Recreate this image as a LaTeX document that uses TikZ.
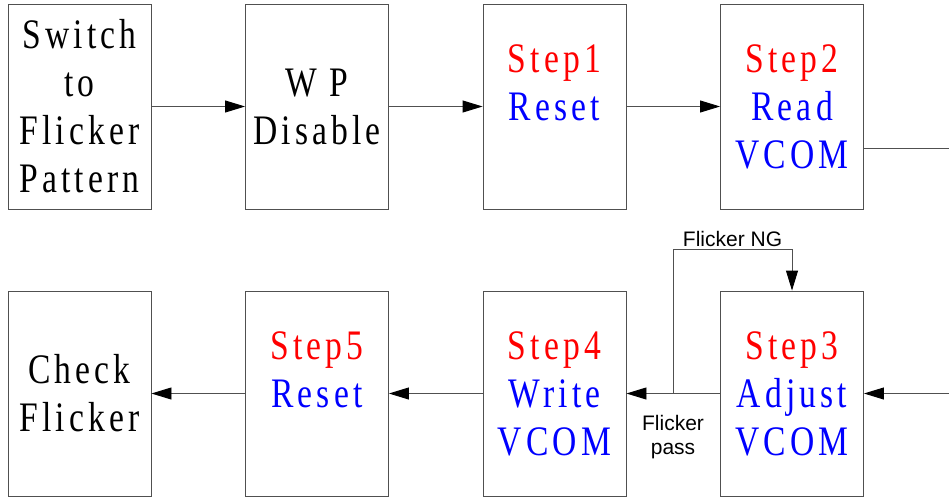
\documentclass[tikz,border=0pt]{standalone}
\usepackage{fontspec}
\setmainfont{Liberation Serif}[FakeStretch=0.8, LetterSpace=10]
\newfontfamily\labelfont{Liberation Sans}
\usepackage{tikz}
\usetikzlibrary{positioning, arrows.meta}
\definecolor{stepred}{RGB}{255,0,0}
\definecolor{stepblue}{RGB}{0,0,255}
\definecolor{boxgray}{RGB}{80,80,80}
\newcommand{\stp}[1]{\textcolor{stepred}{Step#1}}
\newcommand{\act}[1]{\textcolor{stepblue}{#1}}
\newcommand{\widthbox}{143pt}
\newcommand{\heightbox}{205pt}
\tikzset{
    stepbox/.style={draw=boxgray, line width=0.9pt, rectangle, inner sep=0pt,
        minimum width=\widthbox, minimum height=\heightbox, align=center,
        font=\fontsize{42}{48}\selectfont},
    link/.style={draw=boxgray, line width=0.9pt},
    flow/.style={link, -{Triangle[length=20pt, width=12pt, black]}},
    cond/.style={font=\labelfont\fontsize{21}{24}\selectfont, align=center, inner sep=2pt}
}
\begin{document}
\begin{tikzpicture}[x=1pt, y=-1pt, node distance=93.6pt and 93.6pt]
    \useasboundingbox (0,0) rectangle (949,500);

    % upper row
    \node[stepbox] (switch) at (79.5,106.5) {Switch\\to\\Flicker\\Pattern};
    \node[stepbox, right=of switch] (wp) {W P\\Disable};
    \node[stepbox, right=of wp] (s1) {\stp{1}\\\act{Reset}\\\phantom{VCOM}};
    \node[stepbox, right=of s1] (s2) {\stp{2}\\\act{Read}\\\act{VCOM}};

    % lower row
    \node[stepbox] (check) at (79.5,393.5) {Check\\Flicker};
    \node[stepbox, right=of check] (s5) {\stp{5}\\\act{Reset}\\\phantom{VCOM}};
    \node[stepbox, right=of s5] (s4) {\stp{4}\\\act{Write}\\\act{VCOM}};
    \node[stepbox, right=of s4] (s3) {\stp{3}\\\act{Adjust}\\\act{VCOM}};

    \coordinate (s2out) at ([yshift=-41.5pt]s2.east -| 949,0);
    \coordinate (s3in) at (s3.east -| 949,0);
    \coordinate (branch) at ([xshift=-47pt]s3.west);
    \coordinate (ngtop) at ([yshift=41pt]s3.north);

    \draw[flow] (switch) -- (wp);
    \draw[flow] (wp) -- (s1);
    \draw[flow] (s1) -- (s2);
    \draw[link] ([yshift=-41.5pt]s2.east) -- (s2out);

    \draw[flow] (s3in) -- (s3);
    \draw[flow] (s3) -- (s4);
    \draw[flow] (s4) -- (s5);
    \draw[flow] (s5) -- (check);

    \draw[flow] (branch) |- node[cond, above, pos=0.75] {Flicker NG} (ngtop) -- (s3.north);
    \node[cond, below=20pt of branch] (pass) {Flicker\\pass};
\end{tikzpicture}
\end{document}
